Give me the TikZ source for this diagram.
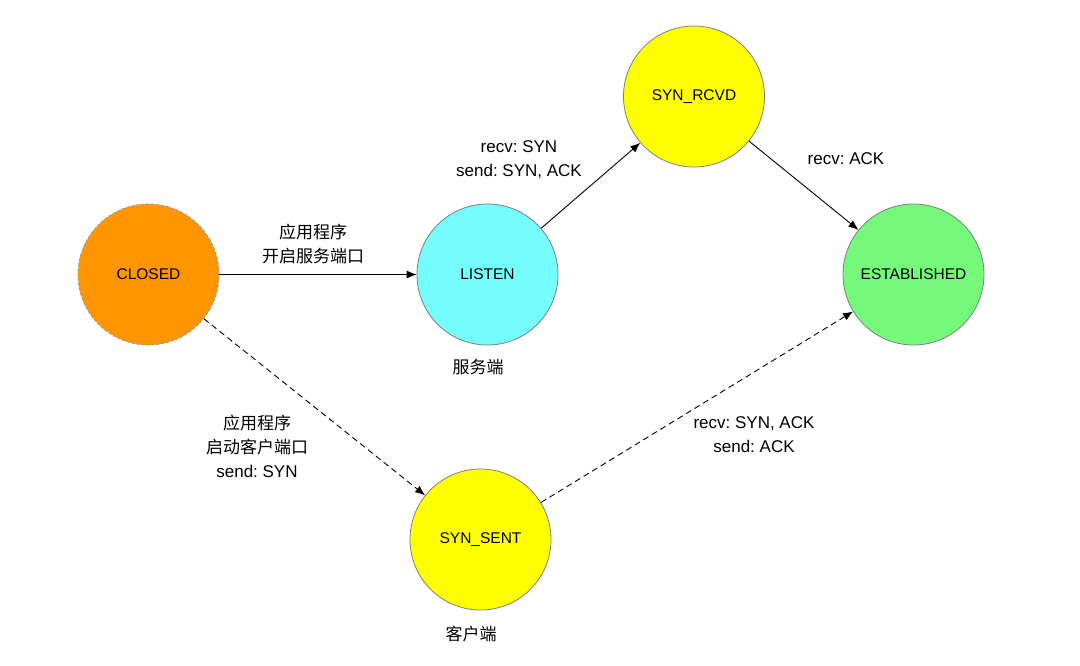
\documentclass[tikz,border=0pt]{standalone}
\usepackage{fontspec}
\setmainfont{Liberation Sans}
\newfontfamily\cjk{Noto Sans CJK SC}
\usetikzlibrary{arrows.meta}
\frenchspacing
\definecolor{cclosed}{RGB}{255,149,0}
\definecolor{clisten}{RGB}{117,252,253}
\definecolor{cyel}{RGB}{255,255,0}
\definecolor{cest}{RGB}{117,249,122}
\definecolor{cborder}{RGB}{120,130,130}
\tikzset{
  state/.style={circle, minimum size=141pt, inner sep=0pt, draw=cborder, line width=0.8pt,
    font=\fontsize{15.5}{18}\selectfont},
  conn/.style={line width=0.9pt, -{Latex[length=10pt,width=8pt]}},
  dconn/.style={conn, dash pattern=on 6pt off 4pt},
  lbl/.style={align=center, font=\fontsize{17}{24}\selectfont, inner sep=0pt},
}
\begin{document}
\begin{tikzpicture}[x=1pt,y=-1pt]
\useasboundingbox (0,0) rectangle (1080,665);
\node[state, fill=cclosed, draw=cborder!80, dash pattern=on 3pt off 2pt] (closed) at (148.5,274.5) {CLOSED};
\node[state, fill=clisten] (listen) at (487.5,274.5) {LISTEN};
\node[state, fill=cyel] (rcvd) at (694,96.5) {SYN\_RCVD};
\node[state, fill=cest] (est) at (913.5,274.5) {ESTABLISHED};
\node[state, fill=cyel] (sent) at (480.5,539.5) {SYN\_SENT};

\draw[conn] (closed) -- (listen);
\draw[conn] (listen) -- (rcvd);
\draw[conn] (rcvd) -- (est);
\draw[dconn] (closed) -- (sent);
\draw[dconn] (sent) -- (est);

\node[lbl] (l1) at (313,244) {{\cjk 应用程序}\\{\cjk 开启服务端口}};
\node[lbl] (l2) at (519,160) {recv: SYN\\send: SYN, ACK};
\node[lbl] (l3) at (846,159) {recv: ACK};
\node[lbl] (l4) at (478,367) {\cjk 服务端};
\node[lbl] (l5) at (257,446) {{\cjk 应用程序}\\{\cjk 启动客户端口}\\send: SYN};
\node[lbl] (l6) at (754,435) {recv: SYN, ACK\\send: ACK};
\node[lbl] (l7) at (471,634) {\cjk 客户端};
\end{tikzpicture}
\end{document}
